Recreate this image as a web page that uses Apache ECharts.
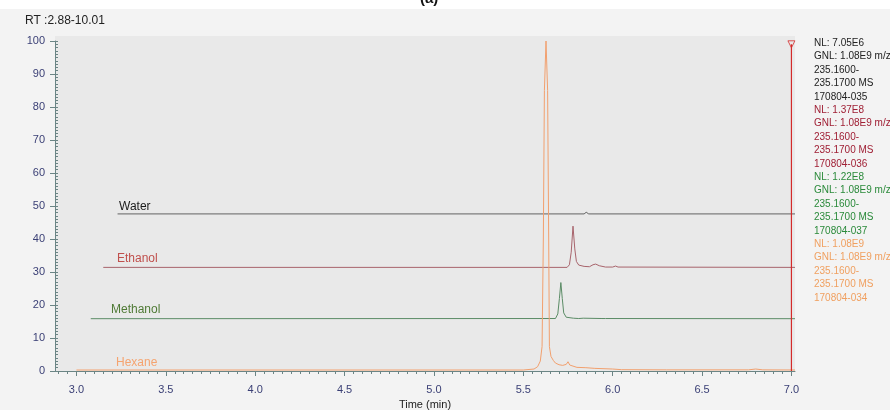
<!DOCTYPE html>
<html>
<head>
    <meta charset="utf-8">
    <title>RT 2.88-10.01</title>
    <script src="https://cdn.jsdelivr.net/npm/echarts@6/dist/echarts.min.js"></script>
    <style>
        html, body { margin: 0; padding: 0; background: #f3f3f3; }
        #main { width: 890px; height: 410px; }
    </style>
</head>
<body>
<div id="main"></div>
<script type="text/javascript">
// x tick labels (min) and y tick labels (%)
var xLabels = [3.0, 3.5, 4.0, 4.5, 5.0, 5.5, 6.0, 6.5, 7.0];
var yLabels = [0, 10, 20, 30, 40, 50, 60, 70, 80, 90, 100];
var xMinorTicks = [2.9, 2.95, 3.0, 3.05, 3.1, 3.15, 3.2, 3.25, 3.3, 3.35, 3.4, 3.45, 3.5, 3.55, 3.6, 3.65, 3.7, 3.75, 3.8, 3.85,
    3.9, 3.95, 4.0, 4.05, 4.1, 4.15, 4.2, 4.25, 4.3, 4.35, 4.4, 4.45, 4.5, 4.55, 4.6, 4.65, 4.7, 4.75, 4.8, 4.85,
    4.9, 4.95, 5.0, 5.05, 5.1, 5.15, 5.2, 5.25, 5.3, 5.35, 5.4, 5.45, 5.5, 5.55, 5.6, 5.65, 5.7, 5.75, 5.8, 5.85,
    5.9, 5.95, 6.0, 6.05, 6.1, 6.15, 6.2, 6.25, 6.3, 6.35, 6.4, 6.45, 6.5, 6.55, 6.6, 6.65, 6.7, 6.75, 6.8, 6.85,
    6.9, 6.95, 7.0];

// traces: [time, relative abundance]
var water = [[3.23, 47.6], [5.84, 47.6], [5.852, 48.1], [5.866, 47.6], [7.02, 47.6]];
var ethanol = [[3.15, 31.4], [5.745, 31.4], [5.758, 32.2], [5.768, 36.0], [5.778, 43.9], [5.788, 37.0],
    [5.797, 33.2], [5.81, 32.1], [5.84, 31.7], [5.87, 31.6], [5.89, 32.2], [5.905, 32.4], [5.925, 31.9],
    [5.96, 31.5], [6.0, 31.5], [6.016, 31.8], [6.03, 31.5], [7.02, 31.4]];
var methanol = [[3.08, 15.85], [5.68, 15.9], [5.693, 17.3], [5.702, 22.0], [5.71, 26.8], [5.718, 22.0],
    [5.726, 17.6], [5.74, 16.3], [5.78, 16.0], [5.81, 15.9], [5.82, 16.4], [5.835, 16.0], [5.94, 15.9],
    [5.95, 16.3], [5.96, 15.9], [7.02, 15.85]];
var hexane = [[3.0, 0.3], [5.5, 0.3], [5.56, 0.6], [5.58, 1.3], [5.595, 3.0], [5.605, 7.4], [5.612, 40],
    [5.618, 85], [5.627, 100], [5.636, 85], [5.642, 40], [5.646, 7.4], [5.655, 4.4], [5.668, 3.2],
    [5.68, 2.4], [5.7, 1.9], [5.72, 1.7], [5.74, 2.0], [5.75, 2.8], [5.76, 1.8], [5.77, 1.2], [5.8, 1.1],
    [5.85, 1.0], [5.9, 0.8], [6.0, 0.6], [6.05, 0.4], [6.3, 0.35], [6.76, 0.35], [6.8, 0.6], [6.84, 0.35], [7.02, 0.3]];
var cursor = [[7.0, 0], [7.0, 99]];

var names = ['Water', 'Ethanol', 'Methanol', 'Hexane'];
var traceColors = ['#626262', '#a8646c', '#5b8c66', '#f2a06e'];
var nameColors = ['#1a1a1a', '#c0504d', '#4f7a35', '#f5a470'];
var infoColors = ['#222222', '#a02035', '#2a8a3a', '#f0a060'];
var infoTexts = [
    'NL: 7.05E6\nGNL: 1.08E9 m/z=\n235.1600-\n235.1700 MS\n170804-035',
    'NL: 1.37E8\nGNL: 1.08E9 m/z=\n235.1600-\n235.1700 MS\n170804-036',
    'NL: 1.22E8\nGNL: 1.08E9 m/z=\n235.1600-\n235.1700 MS\n170804-037',
    'NL: 1.08E9\nGNL: 1.08E9 m/z=\n235.1600-\n235.1700 MS\n170804-034'
];
var nameSpots = [[119, 207], [117, 259], [111, 310], [116, 363]];

var myChart = echarts.init(document.getElementById('main'));
var axisCol = '#6b8585';
var labCol = '#3a3f75';
var font = 'Liberation Sans, Arial, sans-serif';

var graphics = [
    { type: 'rect', z: -10, shape: { x: 0, y: 0, width: 890, height: 9 }, style: { fill: '#ffffff' } },
    { type: 'text', left: 420, top: -9, style: { text: '(a)', font: 'bold 15px ' + font, fill: '#111' } },
    { type: 'rect', z: -10, shape: { x: 55, y: 36, width: 740, height: 335 }, style: { fill: '#e9e9e9' } },
    { type: 'text', left: 25, top: 15, style: { text: 'RT :2.88-10.01', font: '12px ' + font, fill: '#222' } }
];
for (var i = 0; i < names.length; i++) {
    graphics.push({ type: 'text', left: nameSpots[i][0], top: nameSpots[i][1] - 6,
        style: { text: names[i], font: '12px ' + font, fill: nameColors[i] } });
    graphics.push({ type: 'text', left: 814, top: 36.5 + i * 67,
        style: { text: infoTexts[i], font: '10px ' + font, fill: infoColors[i], lineHeight: 13.4 } });
}

var series = [];
var traces = [water, ethanol, methanol, hexane];
for (var k = 0; k < traces.length; k++) {
    series.push({
        name: names[k], type: 'line', data: traces[k], showSymbol: false, symbol: 'none',
        lineStyle: { color: traceColors[k], width: 1 }, silent: true, clip: false
    });
}
series.push({ type: 'line', data: cursor, symbol: 'none', lineStyle: { color: '#d42a2a', width: 1.2 }, silent: true });
series.push({ type: 'scatter', data: [cursor[1]], symbol: 'triangle', symbolRotate: 180, symbolSize: 7,
    itemStyle: { color: '#e9e9e9', borderColor: '#d42a2a', borderWidth: 1 }, silent: true });

var option = {
    animation: false,
    backgroundColor: '#f3f3f3',
    textStyle: { fontFamily: font },
    grid: { left: 55, right: 95, top: 41, bottom: 39, containLabel: false, outerBoundsMode: 'none' },
    xAxis: [{
        type: 'value', min: 2.88, max: 7.02, position: 'bottom',
        name: 'Time (min)', nameLocation: 'middle', nameGap: 25,
        nameTextStyle: { color: '#222', fontSize: 11 },
        axisLine: { lineStyle: { color: axisCol } },
        axisTick: { customValues: xLabels, length: 5, lineStyle: { color: axisCol } },
        axisLabel: { customValues: xLabels, color: labCol, fontSize: 11, margin: 13,
            formatter: function (v) { return v.toFixed(1); } },
        splitLine: { show: false }
    }, {
        type: 'value', min: 2.88, max: 7.02, position: 'bottom', gridIndex: 0,
        axisLine: { show: false },
        axisTick: { customValues: xMinorTicks, length: 3, lineStyle: { color: axisCol } },
        axisLabel: { show: false },
        splitLine: { show: false }
    }],
    yAxis: [{
        type: 'value', min: 0, max: 100, interval: 10,
        axisLine: { show: true, lineStyle: { color: axisCol } },
        axisTick: { show: true, length: 5, lineStyle: { color: axisCol } },
        axisLabel: { color: labCol, fontSize: 11, margin: 10 },
        splitLine: { show: false }
    }, {
        type: 'value', min: 0, max: 100, interval: 1, position: 'left',
        axisLine: { show: false },
        axisTick: { show: true, inside: true, length: 3, lineStyle: { color: axisCol } },
        axisLabel: { show: false },
        splitLine: { show: false }
    }],
    graphic: graphics,
    series: series
};
myChart.setOption(option);
</script>
</body>
</html>
